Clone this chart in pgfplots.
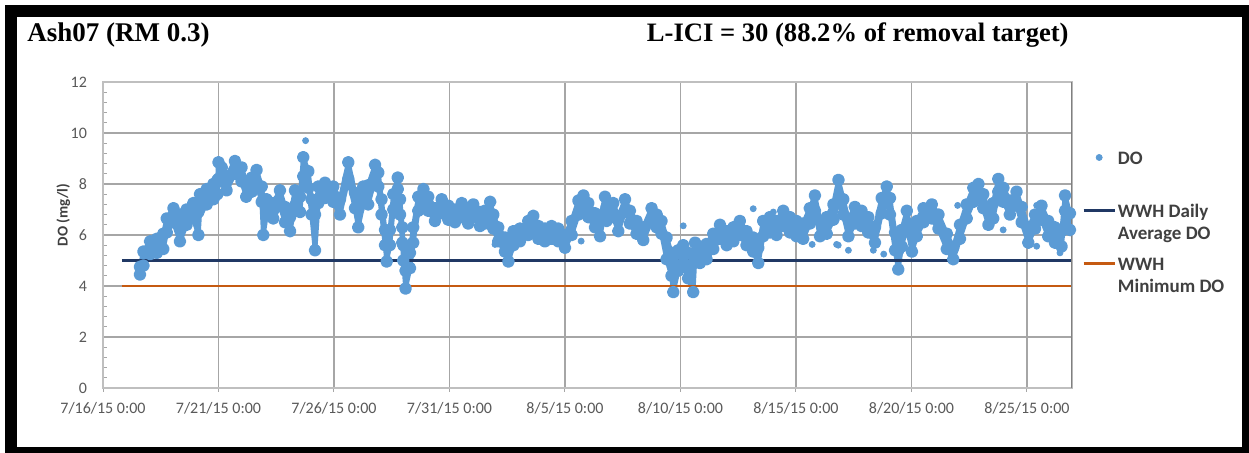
\documentclass[border=0pt]{standalone}
\usepackage{pgfplots}
\pgfplotsset{compat=1.18}
\usepackage{fontspec}
\setmainfont{Liberation Serif}
\newfontfamily\calib{Carlito}
\definecolor{doblue}{HTML}{5B9BD5}
\definecolor{navyl}{HTML}{203864}
\definecolor{orangel}{HTML}{C55A11}
\definecolor{gridgray}{HTML}{A6A6A6}
\definecolor{axgray}{HTML}{BFBFBF}
\definecolor{labgray}{HTML}{595959}
\definecolor{leggray}{HTML}{404040}
\pgfplotsset{
  lineleg/.style={legend image code/.code={\draw[##1] (0pt,8.6pt) -- (15.5pt,8.6pt);}},
  markleg/.style={legend image code/.code={\draw[mark repeat=2,mark phase=2,##1] plot coordinates {(0pt,8.6pt) (7.75pt,8.6pt) (15.5pt,8.6pt)};}},
}

\begin{document}
\begin{tikzpicture}
\useasboundingbox (0,0) rectangle (624.5pt,226.5pt);
\fill[white] (0,0) rectangle (624.5pt,226.5pt);
\fill[black] (2.5pt,0pt) rectangle (624.5pt,224pt);
\fill[white] (8.5pt,3pt) rectangle (621pt,218pt);
\node[anchor=base west,inner sep=0pt,font=\fontsize{13.5}{16}\selectfont\bfseries] at (13.5pt,205.5pt) {Ash07 (RM 0.3)};
\node[anchor=base east,inner sep=0pt,font=\fontsize{13.3}{16}\selectfont\bfseries] at (534.5pt,205.5pt) {L-ICI = 30 (88.2\% of removal target)};
\begin{axis}[
  at={(51.5pt,32.5pt)}, anchor=south west, scale only axis,
  width=484.5pt, height=153pt,
  xmin=0, xmax=41.95, ymin=0, ymax=12,
  xtick={0,5,10,15,20,25,30,35,40},
  xticklabels={7/16/15 0:00,7/21/15 0:00,7/26/15 0:00,7/31/15 0:00,8/5/15 0:00,8/10/15 0:00,8/15/15 0:00,8/20/15 0:00,8/25/15 0:00},
  ytick={0,2,4,6,8,10,12}, minor y tick num=4,
  xmajorgrids, ymajorgrids,
  major grid style={draw=gridgray, line width=0.6pt},
  axis line style={draw=axgray, line width=0.6pt},
  tick pos=left, xtick align=outside, ytick align=inside,
  major tick length=2pt, minor tick length=2pt,
  tick style={draw=gridgray, line width=0.5pt},
  /pgf/number format/assume math mode=true,
  ticklabel style={font=\calib\fontsize{8}{9.6}\selectfont, text=labgray},
  xticklabel style={yshift=-1.5pt},
  yticklabel style={xshift=-4.5pt},
  ylabel={DO (mg/l)},
  ylabel style={at={(axis description cs:-0.041,0.565)}, anchor=center, font=\calib\bfseries\fontsize{7.5}{9}\selectfont, text=leggray},
  legend cell align=left,
  legend style={at={(1.0103,0.785)}, anchor=north west, draw=none, fill=none,
    inner sep=0pt, row sep=0pt,
    font=\calib\bfseries\fontsize{9.5}{11}\selectfont, text=leggray,
    nodes={inner sep=1pt, text height=7pt, text depth=17.5pt}},
]
% DO band: upper edge forward, lower edge backward
\addplot[fill=doblue, draw=doblue, line width=2.3pt, line join=round, mark=*, mark size=2pt, forget plot] coordinates {
(1.60,4.75) (1.75,5.35) (2.04,5.75) (2.33,5.85) (2.61,6.05) (2.76,6.65) (3.05,7.05) (3.33,6.80) (3.62,7.00) (3.91,7.25) (4.13,6.90) (4.20,7.60) (4.49,7.80) (4.78,8.00) (4.95,8.15) (5.00,8.85) (5.14,8.65) (5.35,8.30) (5.71,8.90) (6.00,8.65) (6.20,8.05) (6.44,8.25) (6.65,8.55) (6.87,7.90) (6.94,7.40) (7.08,7.40) (7.37,7.25) (7.66,7.75) (7.88,7.10) (8.10,6.70) (8.31,7.75) (8.53,7.50) (8.67,9.05) (8.89,8.50) (9.03,7.40) (9.18,6.80) (9.32,7.90) (9.61,8.05) (9.97,7.90) (10.26,7.40) (10.62,8.85) (10.91,7.65) (11.05,7.00) (11.27,7.90) (11.48,7.95) (11.78,8.75) (11.92,8.45) (12.06,7.40) (12.21,6.20) (12.28,5.60) (12.42,6.20) (12.57,7.60) (12.76,8.25) (12.86,7.40) (12.96,6.30) (13.00,5.60) (13.10,4.60) (13.29,5.30) (13.43,6.30) (13.65,7.50) (13.87,7.80) (14.08,7.50) (14.37,7.05) (14.66,7.40) (14.95,7.15) (15.24,7.00) (15.53,7.25) (15.81,6.95) (16.03,7.20) (16.32,6.90) (16.53,6.95) (16.76,7.30) (16.90,6.80) (17.11,6.30) (17.40,5.90) (17.55,5.50) (17.77,6.15) (18.05,6.25) (18.41,6.55) (18.63,6.75) (18.85,6.35) (19.13,6.25) (19.42,6.35) (19.71,6.25) (20.00,6.00) (20.29,6.55) (20.58,7.35) (20.80,7.55) (21.01,7.25) (21.30,6.85) (21.52,6.55) (21.73,7.50) (21.80,7.10) (22.09,7.25) (22.31,6.70) (22.60,7.40) (22.81,6.95) (23.10,6.55) (23.39,6.30) (23.75,7.05) (23.97,6.80) (24.18,6.55) (24.40,5.90) (24.61,5.30) (24.69,4.90) (24.90,5.40) (25.12,5.60) (25.33,5.30) (25.55,4.90) (25.63,5.70) (25.84,5.55) (26.13,5.65) (26.42,6.05) (26.71,6.40) (27.00,6.15) (27.29,6.30) (27.57,6.55) (27.86,6.15) (28.15,5.90) (28.37,5.50) (28.58,6.55) (28.87,6.70) (29.16,6.55) (29.45,6.95) (29.74,6.70) (30.02,6.55) (30.31,6.45) (30.60,7.05) (30.82,7.55) (31.04,6.55) (31.33,6.70) (31.62,7.20) (31.84,8.16) (32.05,7.40) (32.27,6.60) (32.55,7.10) (32.84,6.95) (33.13,6.70) (33.42,6.30) (33.71,7.45) (33.93,7.90) (34.07,7.45) (34.29,6.10) (34.43,5.40) (34.58,6.20) (34.80,6.95) (35.02,6.00) (35.23,6.55) (35.52,7.05) (35.88,7.20) (36.17,6.80) (36.53,6.05) (36.81,5.50) (37.10,6.40) (37.39,7.20) (37.68,7.85) (37.90,8.00) (38.11,7.60) (38.33,6.95) (38.54,7.25) (38.76,8.20) (38.98,7.85) (39.26,7.35) (39.55,7.70) (39.77,7.10) (40.06,6.30) (40.35,6.80) (40.63,7.15) (40.92,6.55) (41.21,6.30) (41.50,6.15) (41.65,7.55) (41.86,6.85) (41.96,6.60)
(41.96,6.00) (41.86,6.20) (41.65,6.95) (41.50,5.55) (41.21,5.70) (40.92,5.95) (40.63,6.60) (40.35,6.25) (40.06,5.70) (39.77,6.50) (39.55,7.15) (39.26,6.80) (38.98,7.30) (38.76,7.70) (38.54,6.65) (38.33,6.40) (38.11,7.05) (37.90,7.50) (37.68,7.30) (37.39,6.65) (37.10,5.85) (36.81,5.05) (36.53,5.45) (36.17,6.25) (35.88,6.65) (35.52,6.50) (35.23,5.95) (35.02,5.35) (34.80,6.35) (34.58,5.55) (34.43,4.65) (34.29,5.40) (34.07,6.80) (33.93,7.30) (33.71,6.85) (33.42,5.70) (33.13,6.10) (32.84,6.35) (32.55,6.45) (32.27,5.95) (32.05,6.80) (31.84,7.30) (31.62,6.60) (31.33,6.05) (31.04,5.95) (30.82,6.95) (30.60,6.45) (30.31,5.85) (30.02,5.95) (29.74,6.10) (29.45,6.35) (29.16,6.00) (28.87,6.10) (28.58,5.95) (28.37,4.90) (28.15,5.35) (27.86,5.60) (27.57,6.00) (27.29,5.75) (27.00,5.60) (26.71,5.85) (26.42,5.45) (26.13,5.05) (25.84,4.90) (25.63,5.10) (25.55,3.76) (25.33,4.30) (25.12,4.90) (24.90,4.60) (24.69,3.76) (24.61,4.40) (24.40,5.05) (24.18,6.05) (23.97,6.30) (23.75,6.55) (23.39,5.80) (23.10,6.05) (22.81,6.45) (22.60,6.95) (22.31,6.15) (22.09,6.70) (21.80,6.55) (21.73,6.90) (21.52,5.95) (21.30,6.30) (21.01,6.70) (20.80,7.05) (20.58,6.80) (20.29,6.00) (20.00,5.50) (19.71,5.75) (19.42,5.85) (19.13,5.75) (18.85,5.85) (18.63,6.20) (18.41,6.00) (18.05,5.75) (17.77,5.60) (17.55,4.96) (17.40,5.35) (17.11,5.75) (16.90,6.25) (16.76,6.80) (16.53,6.45) (16.32,6.35) (16.03,6.70) (15.81,6.45) (15.53,6.70) (15.24,6.50) (14.95,6.60) (14.66,6.85) (14.37,6.55) (14.08,6.95) (13.87,7.30) (13.65,6.95) (13.43,5.70) (13.29,4.70) (13.10,3.90) (13.00,5.00) (12.96,5.70) (12.86,6.80) (12.76,7.80) (12.57,7.00) (12.42,5.60) (12.28,4.96) (12.21,5.60) (12.06,6.80) (11.92,7.90) (11.78,8.20) (11.48,7.20) (11.27,7.25) (11.05,6.30) (10.91,7.05) (10.62,8.20) (10.26,6.80) (9.97,7.30) (9.61,7.45) (9.32,7.25) (9.18,5.40) (9.03,6.80) (8.89,7.85) (8.67,8.30) (8.53,6.90) (8.31,7.15) (8.10,6.15) (7.88,6.50) (7.66,7.15) (7.37,6.65) (7.08,6.80) (6.94,6.00) (6.87,7.30) (6.65,8.00) (6.44,7.70) (6.20,7.50) (6.00,8.10) (5.71,8.40) (5.35,7.75) (5.14,8.10) (5.00,8.20) (4.95,7.60) (4.78,7.40) (4.49,7.20) (4.20,7.05) (4.13,6.00) (3.91,6.65) (3.62,6.40) (3.33,5.75) (3.05,6.50) (2.76,6.10) (2.61,5.45) (2.33,5.30) (2.04,5.25) (1.75,4.80) (1.60,4.45)
};
\addplot[only marks, mark=*, mark size=1.5pt, doblue, markleg]
  coordinates {(8.77,9.70) (28.15,7.03) (29.02,6.90) (37.0,7.16) (38.97,6.20) (40.42,7.16) (41.65,7.60) (30.7,5.63) (31.76,5.63) (16.97,5.63) (20.7,5.76) (25.12,6.36) (32.27,5.40) (33.35,5.40) (33.8,5.25) (40.42,5.56) (41.43,5.30) (31.83,5.60)};
\addlegendentry{DO}
\addplot[navyl, line width=1.3pt, lineleg] coordinates {(0.82,5) (41.95,5)};
\addlegendentry{\begin{tabular}[t]{@{}l@{}}WWH Daily\\Average DO\end{tabular}}
\addplot[orangel, line width=1.3pt, lineleg] coordinates {(0.82,4) (41.95,4)};
\addlegendentry{\begin{tabular}[t]{@{}l@{}}WWH\\Minimum DO\end{tabular}}
\draw[draw=gray, line width=0.8pt] (rel axis cs:1,0) -- (rel axis cs:1,1);
\end{axis}
\end{tikzpicture}
\end{document}
